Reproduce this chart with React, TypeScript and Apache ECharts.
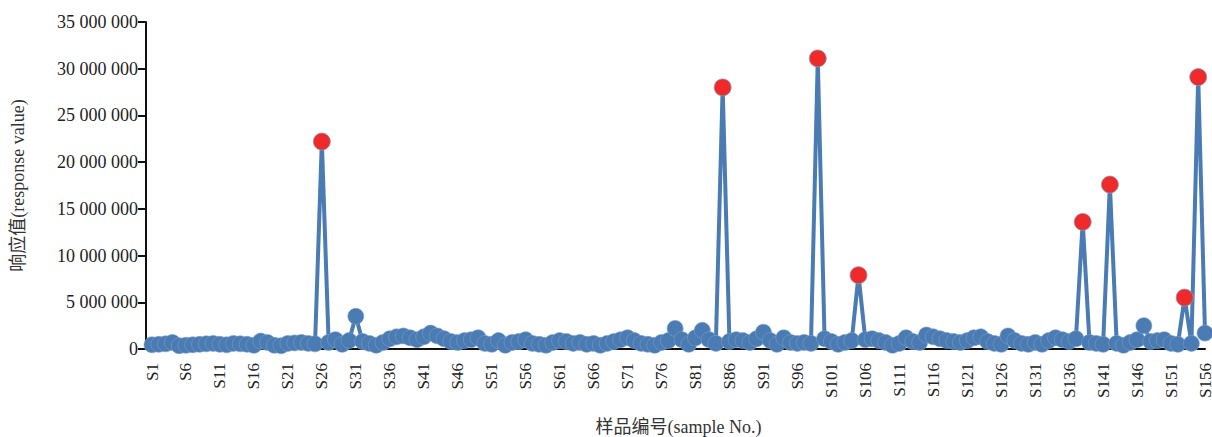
import React, { useEffect, useRef } from "react";
import * as echarts from "echarts";

// Sample names S1..S156
const samples: string[] = Array.from({ length: 156 }, (_, i) => `S${i + 1}`);

// Response values, in millions, listed per block of ten samples
const valuesS1toS50: number[] = [
  0.45, 0.5, 0.55, 0.7, 0.35, 0.4, 0.45, 0.5, 0.55, 0.6,
  0.5, 0.45, 0.6, 0.55, 0.5, 0.4, 0.85, 0.7, 0.4, 0.35,
  0.6, 0.65, 0.7, 0.6, 0.55, 22.2, 0.7, 1.0, 0.5, 0.9,
  3.5, 0.8, 0.6, 0.4, 0.7, 1.1, 1.3, 1.4, 1.2, 1.0,
  1.3, 1.7, 1.4, 1.1, 0.8, 0.7, 0.9, 1.0, 1.2, 0.6,
];
const valuesS51toS100: number[] = [
  0.5, 0.9, 0.4, 0.7, 0.8, 1.0, 0.6, 0.5, 0.4, 0.7,
  0.9, 0.8, 0.6, 0.7, 0.5, 0.6, 0.4, 0.6, 0.8, 1.0,
  1.2, 0.9, 0.6, 0.5, 0.4, 0.7, 0.9, 2.2, 1.0, 0.5,
  1.2, 2.0, 1.0, 0.6, 28.0, 0.8, 1.0, 0.9, 0.7, 1.1,
  1.8, 0.9, 0.5, 1.2, 0.7, 0.6, 0.7, 0.6, 31.1, 1.1,
];
const valuesS101toS156: number[] = [
  0.8, 0.5, 0.7, 0.9, 7.9, 1.0, 1.1, 0.9, 0.7, 0.4,
  0.6, 1.2, 0.8, 0.7, 1.5, 1.3, 1.1, 0.9, 0.8, 0.7,
  0.9, 1.2, 1.3, 0.8, 0.6, 0.5, 1.4, 0.9, 0.6, 0.5,
  0.7, 0.5, 0.9, 1.2, 1.0, 0.8, 1.1, 13.6, 0.7, 0.6,
  0.5, 17.6, 0.6, 0.4, 0.7, 1.0, 2.5, 0.8, 0.9, 1.0,
  0.6, 0.5, 5.5, 0.6, 29.1, 1.7,
];

// Samples flagged as outliers (drawn with red markers)
const outlierSamples: string[] = ["S26", "S85", "S99", "S105", "S138", "S142", "S153", "S155"];

// Y-axis ticks
const yTicks: number[] = [0, 5000000, 10000000, 15000000, 20000000, 25000000, 30000000, 35000000];

const responseValues: number[] = [...valuesS1toS50, ...valuesS51toS100, ...valuesS101toS156].map(
  (v) => Math.round(v * 1000000)
);

const fmt = (v: number) => String(Math.round(v)).replace(/\B(?=(\d{3})+(?!\d))/g, " ");

const serif = "Liberation Serif, Noto Sans CJK SC, serif";

export default function App() {
  const ref = useRef<HTMLDivElement>(null);

  useEffect(() => {
    if (!ref.current) return;
    const chart = echarts.init(ref.current, undefined, { renderer: "svg" });

    const data = responseValues.map((v, i) =>
      outlierSamples.includes(samples[i])
        ? {
            value: v,
            symbolSize: 17,
            itemStyle: { color: "#ee2a2a", borderColor: "#8a97b5", borderWidth: 0.8 },
            z: 5,
          }
        : { value: v }
    );

    chart.setOption({
      animation: false,
      backgroundColor: "#ffffff",
      grid: {
        left: 152,
        right: 7,
        top: 22,
        bottom: 88,
        containLabel: false,
        outerBoundsMode: "none",
      },
      xAxis: {
        type: "category",
        data: samples,
        boundaryGap: false,
        name: "样品编号(sample No.)",
        nameLocation: "middle",
        nameGap: 69,
        nameTextStyle: { fontFamily: serif, fontSize: 18, color: "#333" },
        axisLine: { show: true, lineStyle: { color: "#111", width: 2 } },
        axisTick: { show: false },
        axisLabel: {
          interval: 4,
          rotate: 90,
          margin: 14,
          fontFamily: serif,
          fontSize: 17,
          color: "#222",
        },
        splitLine: { show: false },
      },
      yAxis: {
        type: "value",
        min: yTicks[0],
        max: yTicks[yTicks.length - 1],
        interval: yTicks[1] - yTicks[0],
        offset: 6,
        name: "响应值(response value)",
        nameLocation: "middle",
        nameGap: 119,
        nameTextStyle: { fontFamily: serif, fontSize: 18, color: "#333" },
        axisLine: { show: true, lineStyle: { color: "#111", width: 2 } },
        axisTick: { show: true, length: 8, lineStyle: { color: "#111", width: 2 } },
        axisLabel: {
          formatter: (v: number) => fmt(v),
          fontFamily: serif,
          fontSize: 18,
          color: "#222",
          margin: 8,
        },
        splitLine: { show: false },
      },
      series: [
        {
          type: "line",
          data,
          symbol: "circle",
          symbolSize: 16,
          showAllSymbol: true,
          lineStyle: { color: "#4a7bb3", width: 4 },
          itemStyle: { color: "#4a7bb3", borderColor: "#7a9dc8", borderWidth: 0.6 },
        },
      ],
    });

    return () => chart.dispose();
  }, []);

  return (
    <div
      ref={ref}
      style={{ position: "fixed", left: 0, top: 0, width: 1212, height: 437, background: "#fff" }}
    />
  );
}
